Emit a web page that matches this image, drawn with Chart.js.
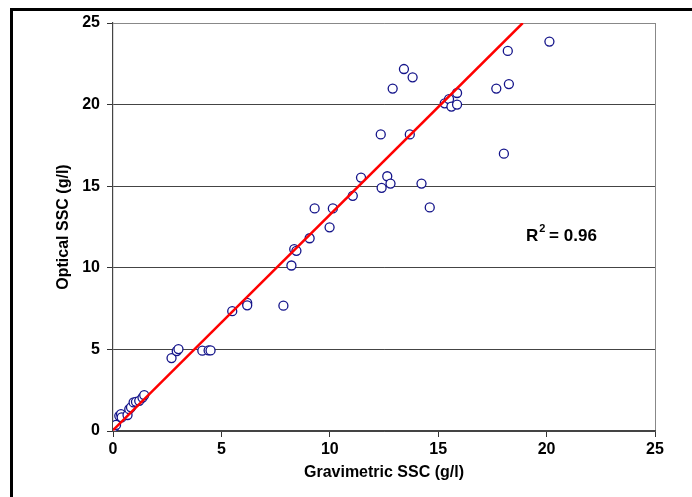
<!DOCTYPE html>
<html>
<head>
<meta charset="utf-8">
<script src="https://cdn.jsdelivr.net/npm/chart.js@4.4.1/dist/chart.umd.min.js"></script>
<style>
  body { margin: 0; background: #fff; overflow: hidden; }
  #marco { position: absolute; left: 10px; top: 8px; width: 720px; height: 540px; border: 3px solid #000; pointer-events: none; }
  #grafica { position: absolute; left: 0; top: 0; }
</style>
</head>
<body>
<canvas id="grafica" width="692" height="497"></canvas>
<div id="marco"></div>
<script>
// datos: SSC gravimetrico (x) contra SSC optico (y), en g/l
const gravimetrico = [0.0, 0.05, 0.14, 0.29, 0.37, 0.40, 0.67, 0.75, 0.83, 0.95, 1.06, 1.21, 1.36, 1.44,
    2.70, 2.94, 3.02, 4.12, 4.41, 4.50,
    5.50, 6.19, 6.19, 7.86, 8.23, 8.36, 8.46, 9.07, 9.99, 9.30, 10.14, 11.06, 11.44,
    12.39, 12.65, 12.80, 14.23, 14.61, 18.03, 12.35, 13.69,
    12.90, 13.42, 13.82, 15.30, 15.50, 15.61, 15.87, 15.87, 17.68, 18.26, 18.21, 20.13];
const optico = [0.10, 0.24, 0.37, 0.93, 1.04, 0.84, 0.98, 1.34, 1.45, 1.75, 1.79, 1.85, 2.05, 2.20,
    4.47, 4.90, 5.02, 4.92, 4.94, 4.94,
    7.34, 7.85, 7.70, 7.68, 10.14, 11.14, 11.04, 11.81, 12.48, 13.64, 13.64, 14.41, 15.53,
    14.90, 15.61, 15.16, 15.16, 13.70, 16.99, 18.17, 18.17,
    20.98, 22.18, 21.67, 20.08, 20.34, 19.88, 20.71, 20.00, 20.98, 21.26, 23.29, 23.86];
// recta de ajuste (extremos)
const ajusteX = [0, 18.9];
const ajusteY = [0.05, 25];
const marcas = [0, 5, 10, 15, 20, 25];
const textoR2 = 'R';
const valorR2 = ' = 0.96';

const puntos = gravimetrico.map((x, i) => ({ x: x, y: optico[i] }));
const recta = ajusteX.map((x, i) => ({ x: x, y: ajusteY[i] }));

const fuente = { family: "'Liberation Sans', Arial, sans-serif", size: 16, weight: 'bold' };

//Se dibuja el texto del R2 con superindice usando las escalas
const pluginR2 = {
    id: 'r2',
    afterDatasetsDraw(chart) {
        const ctx = chart.ctx;
        const px = chart.scales.x.getPixelForValue(19.05);
        const py = chart.scales.y.getPixelForValue(11.95);
        ctx.save();
        ctx.fillStyle = '#000';
        ctx.textBaseline = 'middle';
        ctx.font = "bold 17px 'Liberation Sans', Arial, sans-serif";
        ctx.fillText(textoR2, px, py);
        const w = ctx.measureText(textoR2).width;
        ctx.font = "bold 11px 'Liberation Sans', Arial, sans-serif";
        ctx.fillText('2', px + w + 1, py - 7);
        const w2 = ctx.measureText('2').width;
        ctx.font = "bold 17px 'Liberation Sans', Arial, sans-serif";
        ctx.fillText(valorR2, px + w + w2, py);
        ctx.restore();
    }
};

window.onload = function () {
    const ctx = document.getElementById('grafica').getContext('2d');
    new Chart(ctx, {
        type: 'scatter',
        data: {
            datasets: [{
                type: 'line',
                data: recta,
                borderColor: '#ff0000',
                borderWidth: 2.5,
                pointRadius: 0,
                fill: false
            }, {
                data: puntos,
                pointRadius: 4.5,
                pointBorderWidth: 1.3,
                pointBorderColor: '#14148a',
                pointBackgroundColor: '#ffffff'
            }]
        },
        options: {
            responsive: false,
            animation: false,
            layout: { padding: { top: 23, right: 37, left: 0, bottom: 0 } },
            plugins: { legend: { display: false }, tooltip: { enabled: false } },
            scales: {
                x: {
                    type: 'linear',
                    min: 0, max: 25,
                    afterFit(scale) { scale.height = 66; },
                    afterBuildTicks(scale) { scale.ticks = marcas.map(v => ({ value: v })); },
                    grid: {
                        color: c => c.tick && c.tick.value === 25 ? '#888' : 'rgba(0,0,0,0)',
                        tickColor: '#333',
                        tickLength: 6,
                        drawOnChartArea: true
                    },
                    border: { color: '#444', width: 1.2 },
                    ticks: { color: '#000', font: fuente, padding: 3, maxRotation: 0 },
                    title: { display: true, text: 'Gravimetric SSC (g/l)', color: '#000', font: fuente, padding: { top: 0, bottom: 15 } }
                },
                y: {
                    type: 'linear',
                    min: 0, max: 25,
                    afterFit(scale) { scale.width = 113; },
                    afterBuildTicks(scale) { scale.ticks = marcas.map(v => ({ value: v })); },
                    grid: {
                        color: c => c.tick && c.tick.value === 25 ? '#888' : '#444',
                        tickColor: '#333',
                        tickLength: 6
                    },
                    border: { color: '#444', width: 1.2 },
                    ticks: { color: '#000', font: fuente, padding: 7 },
                    title: { display: true, text: 'Optical SSC (g/l)', color: '#000', font: fuente, padding: { top: 54, bottom: 0 } }
                }
            }
        },
        plugins: [pluginR2]
    });
};
</script>
</body>
</html>
